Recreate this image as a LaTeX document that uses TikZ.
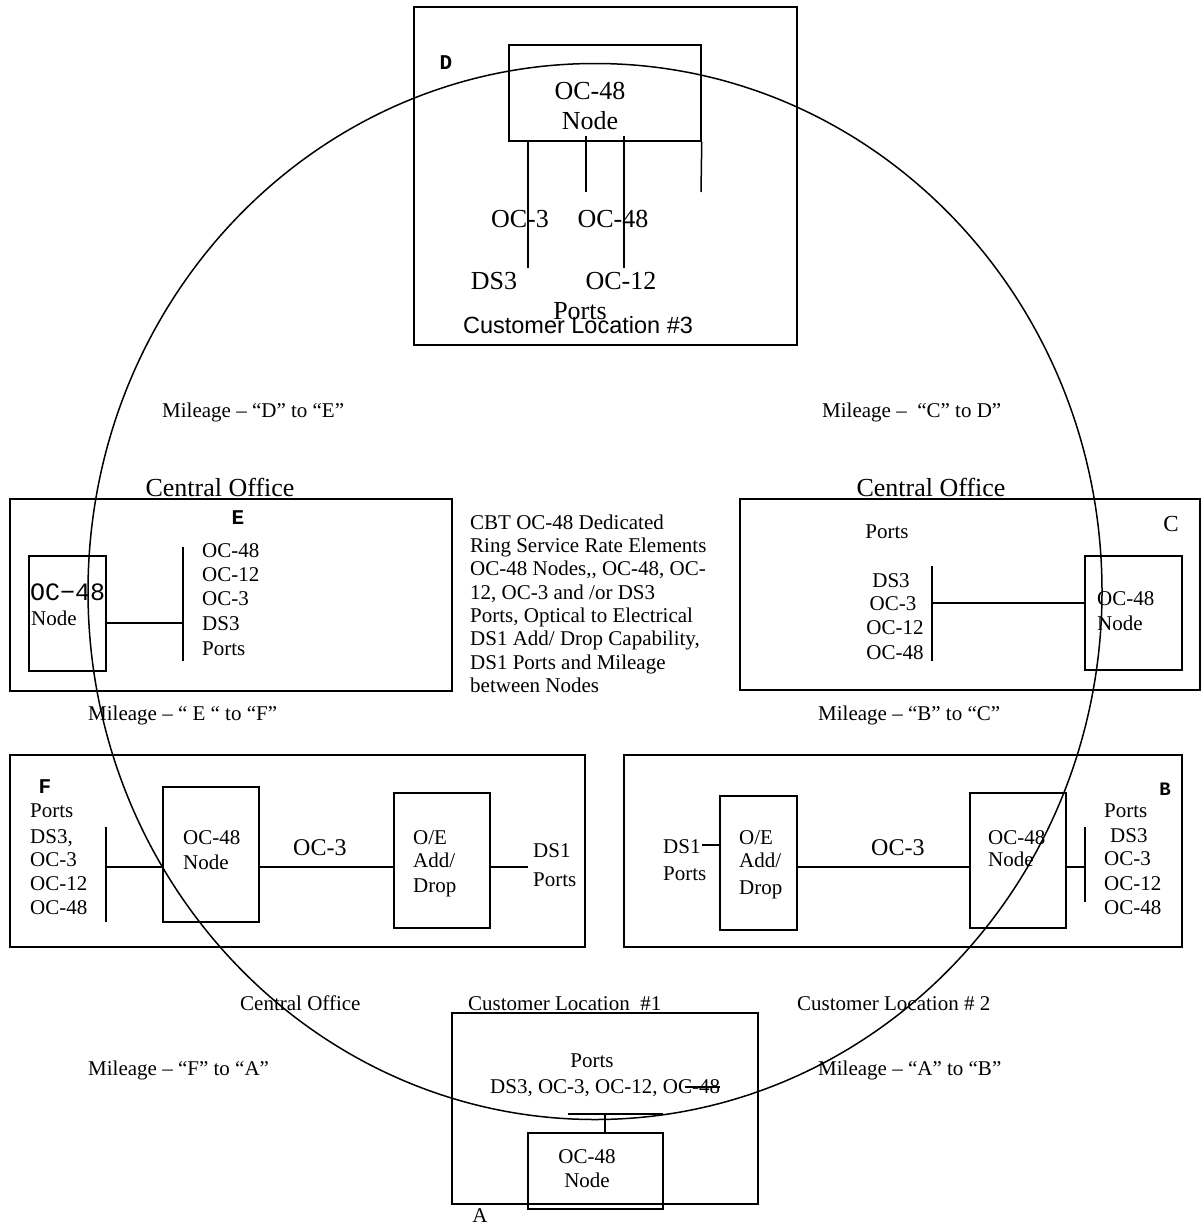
\documentclass[tikz,border=0pt]{standalone}
\usepackage{fontspec}
\setmainfont{Liberation Serif}
\newfontfamily\arialf{Liberation Sans}
\newfontfamily\courf{Liberation Mono}
\usetikzlibrary{calc}
\begin{document}
\begin{tikzpicture}[x=1pt,y=-1pt,
  box/.style={draw, line width=1.5pt, inner sep=0pt},
  ln/.style={line width=1.5pt},
  t21/.style={inner sep=0pt, font=\fontsize{21}{24}\selectfont},
  t24/.style={inner sep=0pt, font=\fontsize{24}{28}\selectfont},
  t26/.style={inner sep=0pt, font=\fontsize{26}{30}\selectfont},
  tag/.style={inner sep=0pt, font=\courf\bfseries\fontsize{21}{24}\selectfont},
]
\fill[white] (0,0) rectangle (1202,1226);
\useasboundingbox (0,0) rectangle (1202,1226);

% ring
\draw[ln] (595,591.5) ellipse [x radius=507pt, y radius=528pt];

% ---------- D : Customer Location #3
\node[box, minimum width=383pt, minimum height=338pt] (dbox) at (605.5,176) {};
\node[box, minimum width=192pt, minimum height=96pt] (dnode) at (605,93) {};
\node[t26, anchor=base] (dn1) at (590,99) {OC-48};
\node[t26, anchor=base] (dn2) at (590,129) {Node};
\node[tag, anchor=base] (dtag) at (446,69) {D};
\coordinate (d1) at (528,268);
\coordinate (d2) at (586,192);
\coordinate (d3) at (624,268);
\coordinate (d4) at (701,192);
\draw[ln] (dnode.south -| d1) -- (d1);
\draw[ln] ($(dnode.south -| d2)+(0,-6)$) -- (d2);
\draw[ln] ($(dnode.south -| d3)+(0,-6)$) -- (d3);
\draw[ln] (dnode.south east) -- (d4);
\node[t26, anchor=base] (dl1) at (520,227) {OC-3};
\node[t26, anchor=base] (dl2) at (613,227) {OC-48};
\node[t26, anchor=base] (dl3) at (494,289) {DS3};
\node[t26, anchor=base] (dl4) at (621,289) {OC-12};
\node[t26, anchor=base] (dl5) at (580,319) {Ports};
\node[inner sep=0pt, font=\arialf\fontsize{23.5}{27}\selectfont, anchor=base] (dcl) at (578,333) {Customer Location \#3};

% ---------- E : Central Office
\node[box, minimum width=442pt, minimum height=192pt] (ebox) at (231,595) {};
\node[t26, anchor=base] (eco) at (220,496) {Central Office};
\node[tag, anchor=base] (etag) at (238,524) {E};
\node[box, minimum width=77pt, minimum height=115pt] (enode) at (67.5,613.5) {};
\node[inner sep=0pt, font=\courf\fontsize{25}{28}\selectfont, anchor=base west] (en1) at (30,600) {OC−48};
\node[t21, anchor=base west] (en2) at (31,625) {Node};
\coordinate (ebt) at (183,547);
\coordinate (ebb) at (183,661);
\draw[ln] (ebt) -- (ebb);
\coordinate (ec) at ([yshift=-9.5pt]enode.east);
\draw[ln] (ec) -- (ec -| ebt);
\node[t21, anchor=base west] (el1) at (202,557) {OC-48};
\node[t21, anchor=base west] (el2) at (202,581) {OC-12};
\node[t21, anchor=base west] (el3) at (202,605) {OC-3};
\node[t21, anchor=base west] (el4) at (202,630) {DS3};
\node[t21, anchor=base west] (el5) at (202,655) {Ports};

% ---------- C : Central Office
\node[box, minimum width=460pt, minimum height=191pt] (cbox) at (970,594.5) {};
\node[t26, anchor=base] (cco) at (931,496) {Central Office};
\node[t21, anchor=base] (cports) at (887,538) {Ports};
\node[inner sep=0pt, font=\fontsize{23}{26}\selectfont, anchor=base] (ctag) at (1171,531) {C};
\node[box, minimum width=97pt, minimum height=114pt] (cnode) at (1133.5,613) {};
\node[t21, anchor=base west] (cn1) at (1097,605) {OC-48};
\node[t21, anchor=base west] (cn2) at (1097,630) {Node};
\coordinate (cbt) at (932,566);
\coordinate (cbb) at (932,661);
\draw[ln] (cbt) -- (cbb);
\coordinate (cc) at ([yshift=10pt]cnode.west);
\draw[ln] (cc -| cbt) -- (cc);
\node[t21, anchor=base] (cl1) at (891,587) {DS3};
\node[t21, anchor=base] (cl2) at (893,610) {OC-3};
\node[t21, anchor=base] (cl3) at (895,634) {OC-12};
\node[t21, anchor=base] (cl4) at (895,659) {OC-48};

% ---------- F
\node[box, minimum width=575pt, minimum height=192pt] (fbox) at (297.5,851) {};
\node[tag, anchor=base] (ftag) at (45,793) {F};
\node[t21, anchor=base west] (fl1) at (30,817) {Ports};
\node[t21, anchor=base west] (fl2) at (30,843) {DS3,};
\node[t21, anchor=base west] (fl3) at (30,866) {OC-3};
\node[t21, anchor=base west] (fl4) at (30,890) {OC-12};
\node[t21, anchor=base west] (fl5) at (30,914) {OC-48};
\coordinate (fbt) at (106,827);
\coordinate (fbb) at (106,922);
\draw[ln] (fbt) -- (fbb);
\node[box, minimum width=96pt, minimum height=135pt] (fnode) at (211,854.5) {};
\node[t21, anchor=base west] (fn1) at (183,844) {OC-48};
\node[t21, anchor=base west] (fn2) at (183,869) {Node};
\node[box, minimum width=96pt, minimum height=135pt] (foe) at (442,860.5) {};
\node[t21, anchor=base west] (fo1) at (413,844) {O/E};
\node[t21, anchor=base west] (fo2) at (413,867) {Add/};
\node[t21, anchor=base west] (fo3) at (413,892) {Drop};
\coordinate (fc) at (0,867);
\coordinate (fds) at (528,867);
\draw[ln] (fc -| fbt) -- (fc -| fnode.west);
\draw[ln] (fc -| fnode.east) -- (fc -| foe.west);
\draw[ln] (fc -| foe.east) -- (fds);
\node[t24, anchor=base west] (foc3) at (293,855) {OC-3};
\node[t21, anchor=base west] (fd1) at (533,857) {DS1};
\node[t21, anchor=base west] (fd2) at (533,886) {Ports};

% ---------- B
\node[box, minimum width=558pt, minimum height=192pt] (bbox) at (903,851) {};
\node[inner sep=0pt, font=\courf\bfseries\fontsize{19}{22}\selectfont, anchor=base] (btag) at (1165,795) {B};
\node[box, minimum width=77pt, minimum height=134pt] (boe) at (758.5,863) {};
\node[t21, anchor=base west] (bo1) at (739,844) {O/E};
\node[t21, anchor=base west] (bo2) at (739,867) {Add/};
\node[t21, anchor=base west] (bo3) at (739,894) {Drop};
\node[t21, anchor=base west] (bd1) at (663,853) {DS1};
\node[t21, anchor=base west] (bd2) at (663,880) {Ports};
\coordinate (bds) at (702,845);
\draw[ln] (bds) -- (bds -| boe.west);
\node[t24, anchor=base west] (boc3) at (871,855) {OC-3};
\node[box, minimum width=96pt, minimum height=135pt] (bnode) at (1018,860.5) {};
\node[t21, anchor=base west] (bn1) at (988,844) {OC-48};
\node[t21, anchor=base west] (bn2) at (988,866) {Node};
\coordinate (bc) at (0,867);
\coordinate (bbt) at (1085,827);
\coordinate (bbb) at (1085,902);
\draw[ln] (bbt) -- (bbb);
\draw[ln] (bc -| boe.east) -- (bc -| bnode.west);
\draw[ln] (bc -| bnode.east) -- (bc -| bbt);
\node[t21, anchor=base west] (bl1) at (1104,817) {Ports};
\node[t21, anchor=base west] (bl2) at (1110,842) {DS3};
\node[t21, anchor=base west] (bl3) at (1104,865) {OC-3};
\node[t21, anchor=base west] (bl4) at (1104,890) {OC-12};
\node[t21, anchor=base west] (bl5) at (1104,914) {OC-48};

% ---------- A : Customer Location #1
\node[box, minimum width=306pt, minimum height=191pt] (abox) at (605,1108.5) {};
\node[box, minimum width=135pt, minimum height=76pt] (anode) at (595.5,1171) {};
\node[t21, anchor=base west] (acl) at (468,1010) {Customer Location\ \ \#1};
\node[t21, anchor=base] (aports) at (592,1067) {Ports};
\node[t21, anchor=base west] (alist) at (490,1093) {DS3, OC-3, OC-12, OC-48};
\coordinate (abl) at (568,1114);
\coordinate (abr) at (663,1114);
\draw[ln] (abl) -- (abr);
\coordinate (as) at (605,1114);
\draw[ln] (as) -- (as |- anode.north);
\coordinate (asl) at (685,1087);
\coordinate (asr) at (720,1087);
\draw[ln] (asl) -- (asr);
\node[t21, anchor=base] (an1) at (587,1163) {OC-48};
\node[t21, anchor=base] (an2) at (587,1187) {Node};
\node[t21, anchor=base] (atag) at (480,1222) {A};

% ---------- mileage and other labels
\node[t21, anchor=base west] (mde) at (162,417) {Mileage – “D” to “E”};
\node[t21, anchor=base west] (mcd) at (822,417) {Mileage –\ \ “C” to D”};
\node[t21, anchor=base west] (mef) at (88,720) {Mileage – “ E “ to “F”};
\node[t21, anchor=base west] (mbc) at (818,720) {Mileage – “B” to “C”};
\node[t21, anchor=base west] (fco) at (240,1010) {Central Office};
\node[t21, anchor=base west] (bcl) at (797,1010) {Customer Location \# 2};
\node[t21, anchor=base west] (mfa) at (88,1075) {Mileage – “F” to “A”};
\node[t21, anchor=base west] (mab) at (818,1075) {Mileage – “A” to “B”};

% ---------- centre description
\node[t21, anchor=base west] (cbt1) at (470,529) {CBT OC-48 Dedicated};
\node[t21, anchor=base west] (cbt2) at (470,552) {Ring Service Rate Elements};
\node[t21, anchor=base west] (cbt3) at (470,575) {OC-48 Nodes,{}, OC-48, OC-};
\node[t21, anchor=base west] (cbt4) at (470,599) {12, OC-3 and /or DS3};
\node[t21, anchor=base west] (cbt5) at (470,622) {Ports, Optical to Electrical};
\node[t21, anchor=base west] (cbt6) at (470,645) {DS1 Add/ Drop Capability,};
\node[t21, anchor=base west] (cbt7) at (470,669) {DS1 Ports and Mileage};
\node[t21, anchor=base west] (cbt8) at (470,692) {between Nodes};
\end{tikzpicture}
\end{document}
